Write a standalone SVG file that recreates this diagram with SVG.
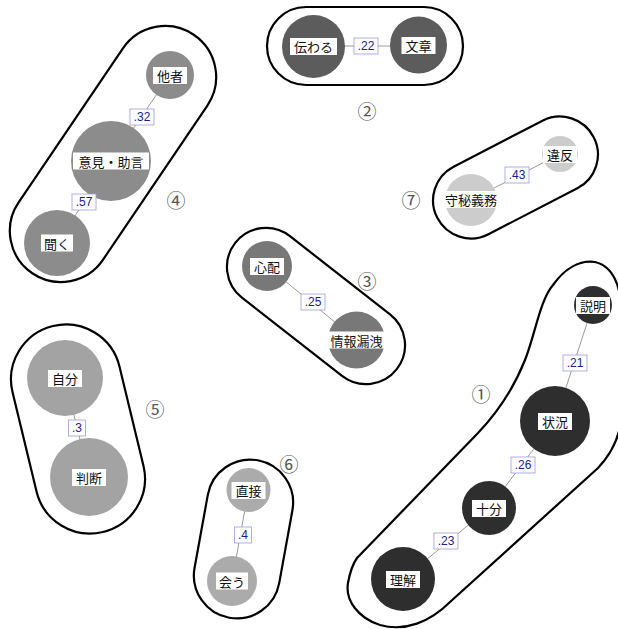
<svg xmlns="http://www.w3.org/2000/svg" width="618" height="629" viewBox="0 0 618 629">
<style>
.hull{fill:#fff;stroke:#000;stroke-width:2.2}
.edge{stroke:#9a9a9a;stroke-width:1;fill:none}
.lb{fill:#fff}
.t{font-family:"Noto Sans CJK JP","Noto Sans CJK SC",sans-serif;font-size:13px;fill:#111;text-anchor:middle;dominant-baseline:central}
.eb{fill:#fff;stroke:#9c9ce0;stroke-width:0.8}
.et{font-family:"Liberation Sans",Arial,sans-serif;font-size:12px;fill:#1c1c8a;text-anchor:middle;dominant-baseline:central}
.num{font-family:"Noto Sans CJK JP","DejaVu Sans",sans-serif;font-size:19px;fill:#555;text-anchor:middle;dominant-baseline:central}
.c1{fill:#2e2e2e}.c2{fill:#5c5c5c}.c3{fill:#787878}.c4{fill:#8c8c8c}.c5{fill:#a3a3a3}.c6{fill:#ababab}.c7{fill:#cccccc}
</style>
<g id="hulls">
<path id="hull1" class="hull" d="M357,558 L478,433 C500,410 515,385 525,360 C535,335 540,300 553,285 C565,268 580,260 595,262 C612,266 622,285 622,320 L621,420 C619,440 610,455 598,468 L450,602 C430,622 405,632 380,625 C358,618 345,600 348,583 C350,572 352,565 357,558 Z"/>
<rect id="hull2" class="hull" x="267" y="7" width="196" height="78" rx="39"/>
<rect id="hull3" class="hull" x="-102.5" y="-39" width="205" height="78" rx="39" transform="translate(316,306) rotate(38)"/>
<rect id="hull4" class="hull" x="-144" y="-51" width="288" height="102" rx="51" transform="translate(113,154) rotate(-55.9)"/>
<rect id="hull5" class="hull" x="-106" y="-55" width="212" height="110" rx="55" transform="translate(78,429) rotate(76.4)"/>
<rect id="hull6" class="hull" x="-80" y="-43" width="160" height="86" rx="43" transform="translate(243.5,539) rotate(-79.7)"/>
<rect id="hull7" class="hull" x="-88" y="-38" width="176" height="76" rx="38" transform="translate(515.5,177.5) rotate(-27.3)"/>
</g>
<g id="connectors">
<line class="edge" x1="593" y1="305" x2="555" y2="421"/>
<line class="edge" x1="555" y1="421" x2="489" y2="508"/>
<line class="edge" x1="489" y1="508" x2="403" y2="579"/>
<line class="edge" x1="313.5" y1="46" x2="418.5" y2="46"/>
<line class="edge" x1="267" y1="266" x2="356.5" y2="340"/>
<line class="edge" x1="170" y1="75" x2="111" y2="161"/>
<line class="edge" x1="111" y1="161" x2="57" y2="243"/>
<line class="edge" x1="65" y1="378" x2="89" y2="477"/>
<line class="edge" x1="248.5" y1="490" x2="232" y2="581"/>
<line class="edge" x1="560" y1="154" x2="471" y2="200"/>
</g>
<g id="nodes">
<g id="n-setsumei"><circle class="c1" cx="593" cy="305" r="19"/><rect class="lb" x="576" y="297" width="34" height="17"/><text class="t" x="593" y="305.5">説明</text></g>
<g id="n-joukyou"><circle class="c1" cx="555" cy="421" r="35"/><rect class="lb" x="538" y="413" width="34" height="17"/><text class="t" x="555" y="421.5">状況</text></g>
<g id="n-juubun"><circle class="c1" cx="489" cy="508" r="27"/><rect class="lb" x="472" y="500" width="34" height="17"/><text class="t" x="489" y="508.5">十分</text></g>
<g id="n-rikai"><circle class="c1" cx="403" cy="579" r="32"/><rect class="lb" x="386" y="571" width="34" height="17"/><text class="t" x="403" y="579.5">理解</text></g>
<g id="n-tsutawaru"><circle class="c2" cx="313.5" cy="46.5" r="31.5"/><rect class="lb" x="290" y="38" width="47" height="17"/><text class="t" x="313.5" y="46.5">伝わる</text></g>
<g id="n-bunshou"><circle class="c2" cx="418.5" cy="45" r="28.5"/><rect class="lb" x="401.5" y="37" width="34" height="17"/><text class="t" x="418.5" y="45.5">文章</text></g>
<g id="n-shinpai"><circle class="c3" cx="267" cy="266" r="25"/><rect class="lb" x="250" y="258" width="34" height="17"/><text class="t" x="267" y="266.5">心配</text></g>
<g id="n-jouhourouei"><circle class="c3" cx="356.5" cy="340" r="28.5"/><rect class="lb" x="326.5" y="331.5" width="60" height="17"/><text class="t" x="356.5" y="340">情報漏洩</text></g>
<g id="n-tasha"><circle class="c4" cx="170" cy="75" r="24"/><rect class="lb" x="153" y="67" width="34" height="17"/><text class="t" x="170" y="75.5">他者</text></g>
<g id="n-iken"><circle class="c4" cx="111" cy="161" r="40"/><rect class="lb" x="73" y="152.5" width="76" height="17"/><text class="t" x="111" y="161">意見・助言</text></g>
<g id="n-kiku"><circle class="c4" cx="57" cy="243" r="33"/><rect class="lb" x="41" y="234.5" width="32" height="17"/><text class="t" x="57" y="243">聞く</text></g>
<g id="n-jibun"><circle class="c5" cx="65" cy="378" r="38"/><rect class="lb" x="48" y="370" width="34" height="17"/><text class="t" x="65" y="378.5">自分</text></g>
<g id="n-handan"><circle class="c5" cx="89" cy="477" r="39"/><rect class="lb" x="72" y="469" width="34" height="17"/><text class="t" x="89" y="477.5">判断</text></g>
<g id="n-chokusetsu"><circle class="c6" cx="248.5" cy="490" r="22"/><rect class="lb" x="231.5" y="482" width="34" height="17"/><text class="t" x="248.5" y="490.5">直接</text></g>
<g id="n-au"><circle class="c6" cx="232" cy="581" r="25"/><rect class="lb" x="216" y="572.5" width="32" height="17"/><text class="t" x="232" y="581">会う</text></g>
<g id="n-ihan"><circle class="c7" cx="560" cy="154" r="18"/><rect class="lb" x="543" y="146" width="34" height="17"/><text class="t" x="560" y="154.5">違反</text></g>
<g id="n-shuhi"><circle class="c7" cx="471" cy="200" r="26"/><rect class="lb" x="443" y="191" width="56" height="17"/><text class="t" x="471" y="199.5">守秘義務</text></g>
</g>
<g id="edge-labels">
<rect class="eb" x="563" y="355" width="24" height="16"/><text class="et" x="575" y="363">.21</text>
<rect class="eb" x="511" y="457" width="24" height="16"/><text class="et" x="523" y="465">.26</text>
<rect class="eb" x="434" y="533" width="24" height="16"/><text class="et" x="446" y="541">.23</text>
<rect class="eb" x="354" y="38" width="24" height="16"/><text class="et" x="366" y="46">.22</text>
<rect class="eb" x="301" y="294" width="24" height="16"/><text class="et" x="313" y="302">.25</text>
<rect class="eb" x="130" y="109" width="24" height="16"/><text class="et" x="142" y="117">.32</text>
<rect class="eb" x="72" y="194" width="24" height="16"/><text class="et" x="84" y="202">.57</text>
<rect class="eb" x="68.5" y="420" width="17" height="16"/><text class="et" x="77" y="428">.3</text>
<rect class="eb" x="234.5" y="527" width="17" height="16"/><text class="et" x="243" y="535">.4</text>
<rect class="eb" x="505" y="167" width="24" height="16"/><text class="et" x="517" y="175">.43</text>
</g>
<g id="group-numbers">
<text class="num" x="481" y="393">①</text>
<text class="num" x="367" y="110">②</text>
<text class="num" x="367" y="280">③</text>
<text class="num" x="176" y="199">④</text>
<text class="num" x="155" y="408">⑤</text>
<text class="num" x="289" y="463">⑥</text>
<text class="num" x="411" y="199">⑦</text>
</g>
</svg>
